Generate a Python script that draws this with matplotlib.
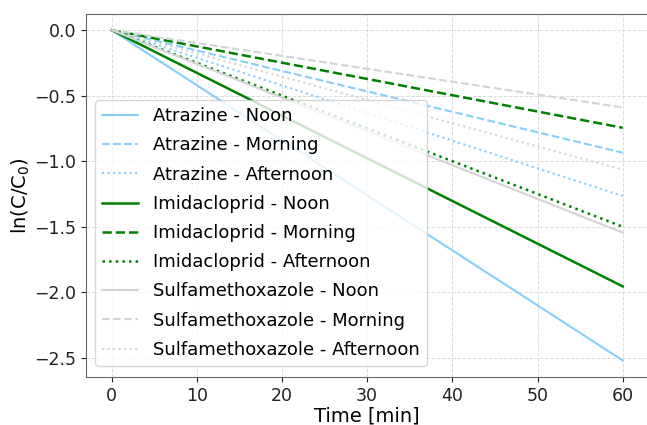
import numpy as np
import matplotlib
matplotlib.use('Agg')
import matplotlib.pyplot as plt

# time axis (min) and ln(C/C0) at each end of the fitted lines
time_min = [0, 60]

atrazine_noon = [0.0, -2.52]
atrazine_morning = [0.0, -0.935]
atrazine_afternoon = [0.0, -1.265]
imidacloprid_noon = [0.0, -1.955]
imidacloprid_morning = [0.0, -0.745]
imidacloprid_afternoon = [0.0, -1.50]
sulfa_noon = [0.0, -1.545]
sulfa_morning = [0.0, -0.59]
sulfa_afternoon = [0.0, -1.065]

series = [
    ('Atrazine - Noon', atrazine_noon, 'lightskyblue', '-', 1.5),
    ('Atrazine - Morning', atrazine_morning, 'lightskyblue', '--', 1.5),
    ('Atrazine - Afternoon', atrazine_afternoon, 'lightskyblue', ':', 1.5),
    ('Imidacloprid - Noon', imidacloprid_noon, 'green', '-', 1.8),
    ('Imidacloprid - Morning', imidacloprid_morning, 'green', '--', 1.8),
    ('Imidacloprid - Afternoon', imidacloprid_afternoon, 'green', ':', 1.8),
    ('Sulfamethoxazole - Noon', sulfa_noon, 'lightgray', '-', 1.5),
    ('Sulfamethoxazole - Morning', sulfa_morning, 'lightgray', '--', 1.5),
    ('Sulfamethoxazole - Afternoon', sulfa_afternoon, 'lightgray', ':', 1.5),
]

fig = plt.figure(figsize=(6.47, 4.25), dpi=100)
ax = fig.add_axes([0.133, 0.113, 0.869, 0.855])

for label, vals, col, ls, lw in series:
    ax.plot(time_min, vals, color=col, linestyle=ls, linewidth=lw, label=label)

ax.set_xticks([0, 10, 20, 30, 40, 50, 60])
ax.set_yticks([0.0, -0.5, -1.0, -1.5, -2.0, -2.5])
ax.tick_params(labelsize=12.5, colors='#222222')
for s in ax.spines.values():
    s.set_color('#666666')
ax.grid(True, color='lightgray', linestyle='--', linewidth=0.7, alpha=0.8)

ax.set_xlabel('Time [min]', fontsize=14, labelpad=1)
ax.set_ylabel(r'ln(C/C$_0$)', fontsize=14, labelpad=2)

ax.legend(loc='upper left', bbox_to_anchor=(0.016, 0.762), borderaxespad=0,
          fontsize=13, framealpha=0.8, labelspacing=0.62)

fig.savefig('out.png', dpi=100)
